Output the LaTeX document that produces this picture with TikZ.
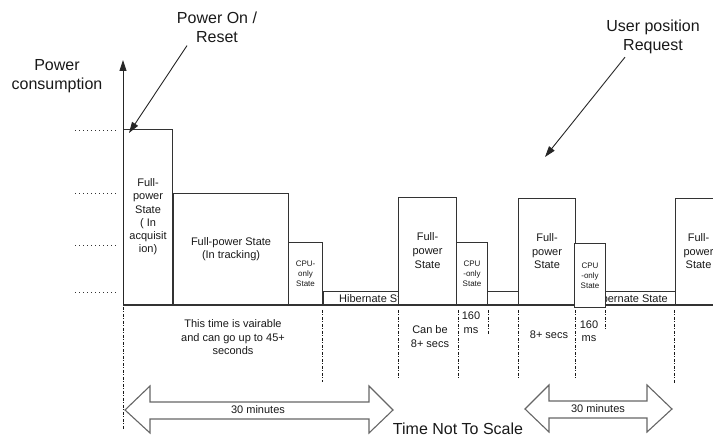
\documentclass[tikz,border=0pt]{standalone}
\usepackage{fontspec}
\setmainfont{Liberation Sans}
\usetikzlibrary{arrows.meta,calc}
\begin{document}
\begin{tikzpicture}[x=1pt,y=-1pt,
  box/.style={draw=black!80, line width=1.1pt, fill=white, inner sep=0pt, anchor=south west, align=center, text=black!90},
  lbl/.style={font=\fontsize{11}{13.2}\selectfont},
  tinyl/.style={font=\fontsize{8}{10}\selectfont},
  txt/.style={align=center, inner sep=0pt, text=black!90, font=\fontsize{11}{13.5}\selectfont},
  big/.style={align=center, inner sep=0pt, text=black!90, font=\fontsize{16}{19}\selectfont},
  lvl/.style={dash pattern=on 1pt off 3pt, line width=1pt, draw=black!80},
  tickl/.style={dash pattern=on 3pt off 1.5pt on 1pt off 1.5pt, line width=0.9pt, draw=black!90},
  arr/.style={-{Triangle[length=11pt,width=7pt]}, line width=0.9pt, draw=black!85},
  dbl/.style={draw=black!60, line width=1.1pt, fill=white}
]
\useasboundingbox (0,0) rectangle (713,438);

% level markers
\draw[lvl] (75,131) -- (118,131);
\draw[lvl] (75,194) -- (118,194);
\draw[lvl] (75,246) -- (118,246);
\draw[lvl] (75,293) -- (118,293);

% baseline
\draw[line width=1.3pt, draw=black!80] (123,305) -- (713,305);

% hibernate boxes (drawn under the full-power / CPU boxes)
\node[box, lbl, minimum width=75, minimum height=13] (h1) at (323,305) {};
\node[txt, anchor=west] (h1t) at (339,298.5) {Hibernate State};
\node[box, minimum width=31, minimum height=13] (h2) at (487,305) {};
\node[box, minimum width=85, minimum height=13] (h3) at (590,305) {};
\node[txt, anchor=east] (h3t) at (668,298.5) {Hibernate State};

% state boxes
\node[box, lbl, minimum width=49, minimum height=175] (b1) at (123,305) {Full-\\power\\State\\( In\\acquisit\\ion)};
\node[box, lbl, minimum width=115, minimum height=111] (b2) at (173,305) {Full-power State\\(In tracking)};
\node[box, tinyl, minimum width=34, minimum height=62] (b3) at (288,305) {CPU-\\only\\State};
\node[box, lbl, minimum width=58, minimum height=107, font=\fontsize{11}{14}\selectfont] (b4) at (398,305) {Full-\\power\\State};
\node[box, tinyl, minimum width=31, minimum height=62] (b5) at (456,305) {CPU\\-only\\State};
\node[box, lbl, minimum width=57, minimum height=106, font=\fontsize{11}{13.5}\selectfont] (b6) at (518,305) {Full-\\power\\State};
\node[box, tinyl, minimum width=31, minimum height=64] (b7) at (574,308) {CPU\\-only\\State};
\begin{scope}
\clip (0,0) rectangle (713,438);
\node[box, lbl, minimum width=46, minimum height=106, font=\fontsize{11}{13.5}\selectfont] (b8) at (675,305) {Full-\\power\\State};
\end{scope}

% y axis
\coordinate (ytop) at (123,60);
\draw[arr] (b1.south west) -- (ytop);

% time ticks
\draw[tickl] (123,307) -- (123,430);
\draw[tickl] (322,310) -- (322,382);
\draw[tickl] (398,310) -- (398,378);
\draw[tickl] (458,310) -- (458,380);
\draw[tickl] (488,310) -- (488,335);
\draw[tickl] (518,310) -- (518,378);
\draw[tickl] (575,310) -- (575,378);
\draw[tickl] (605,310) -- (605,331);
\draw[tickl] (674,310) -- (674,384);

% durations
\node[txt] (var) at (233,337.5) {This time is vairable\\and can go up to 45+\\seconds};
\node[txt] (can8) at (430,336.5) {Can be\\8+ secs};
\node[txt] (ms1) at (471,322.5) {160\\ms};
\node[txt] (s8) at (549,335) {8+ secs};
\node[txt] (ms2) at (589,331) {160\\ms};

% labels and arrows on top
\node[big] (pwr) at (217,27) {Power On /\\Reset};
\node[big] (pc) at (57,76) {Power\\consumption};
\node[big] (usr) at (653,37) {User position\\Request};
\coordinate (pwrtip) at (129,133);
\coordinate (usrtip) at (545,157);
\draw[arr] ($(pwr.south)+(-30,3)$) -- (pwrtip);
\draw[arr] ($(usr.south)+(-28,3)$) -- (usrtip);

% 30 minute double arrows
\draw[dbl] (125,410) -- (150,386) -- (150,402) -- (369,402) -- (369,386) -- (393,410)
  -- (369,433) -- (369,419) -- (150,419) -- (150,433) -- cycle;
\node[txt] (m1) at (258,409.5) {30 minutes};
\draw[dbl] (525,409) -- (549,385) -- (549,401) -- (647,401) -- (647,385) -- (672,409)
  -- (647,432) -- (647,418) -- (549,418) -- (549,432) -- cycle;
\node[txt] (m2) at (598,408.5) {30 minutes};

\node[big] (tnts) at (458,428.5) {Time Not To Scale};
\end{tikzpicture}
\end{document}
